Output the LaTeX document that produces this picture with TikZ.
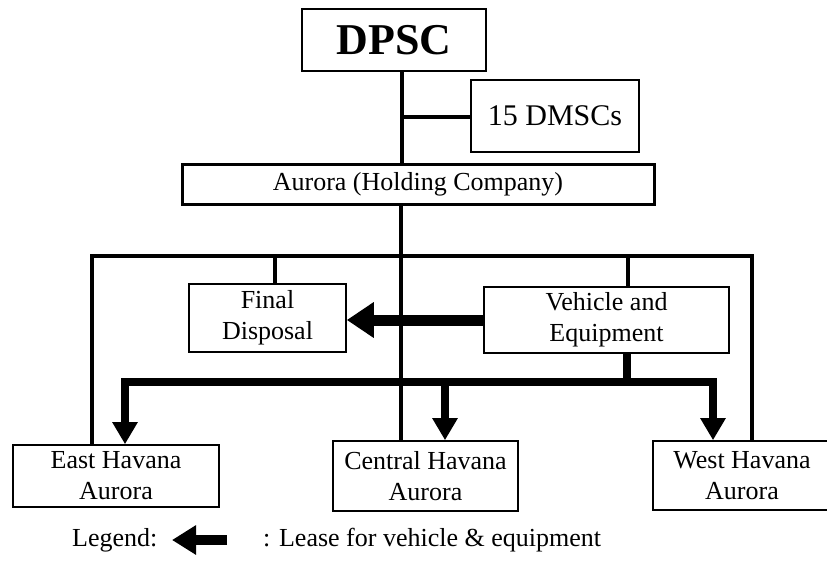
\documentclass[tikz,border=0pt]{standalone}
\usepackage{fontspec}
\setmainfont{Liberation Serif}
\usetikzlibrary{arrows.meta}
\begin{document}
\begin{tikzpicture}[x=1pt,y=-1pt,
  box/.style={draw,line width=1.6pt,inner sep=0pt,align=center,font=\fontsize{26}{31}\selectfont},
  thin/.style={line width=3.2pt},
  bus/.style={line width=8pt},
  downarrow/.style={line width=8pt,-{Triangle[length=22pt,width=24pt]}},
  lease/.style={line width=11pt,-{Triangle[length=27pt,width=34pt]}}]
\useasboundingbox (0,0) rectangle (827,571);
% nodes
\node[box,line width=2pt,minimum width=184pt,minimum height=62pt,font=\fontsize{44}{50}\selectfont\bfseries] (dpsc) at (394,40) {DPSC};
\node[box,minimum width=168pt,minimum height=72pt,font=\fontsize{30}{34}\selectfont] (dmsc) at (555,116) {15 DMSCs};
\node[box,line width=3pt,minimum width=472pt,minimum height=40pt] (aurora) at (418,184) {Aurora (Holding Company)};
\node[box,minimum width=157pt,minimum height=68pt] (final) at (267.5,318) {Final\\Disposal};
\node[box,minimum width=245pt,minimum height=66pt] (veh) at (606.5,320) {Vehicle and\\Equipment};
\node[box,minimum width=206pt,minimum height=62pt] (east) at (116,476) {East Havana\\Aurora};
\node[box,minimum width=185pt,minimum height=70pt] (central) at (425.5,476) {Central Havana\\Aurora};
\node[box,minimum width=178pt,minimum height=69pt] (west) at (742,475.5) {West Havana\\Aurora};
% reference coordinates
\coordinate (vx) at (402,117);
\coordinate (vc) at (401,256);
\coordinate (bl) at (92,256);
\coordinate (br) at (752,256);
\coordinate (fx) at (275,256);
\coordinate (gx) at (628,256);
\coordinate (busl) at (125,382);
\coordinate (busr) at (713,382);
\coordinate (busc) at (445,382);
\coordinate (busv) at (627,382);
% thin connectors
\draw[thin] (dpsc.south -| vx) -- (aurora.north -| vx);
\draw[thin] (vx) -- (dmsc.west |- vx);
\draw[thin] (aurora.south -| vc) -- (central.north -| vc);
\draw[thin,line cap=rect] (bl) -- (br);
\draw[thin] (bl) -- (east.north -| bl);
\draw[thin] (br) -- (west.north -| br);
\draw[thin] (fx) -- (final.north -| fx);
\draw[thin] (gx) -- (veh.north -| gx);
% lease arrow
\draw[lease] (veh.west) -- (veh.west -| final.east);
% bus
\draw[bus] (veh.south -| busv) -- (busv);
\draw[bus,line cap=rect] (busl) -- (busr);
\draw[downarrow] (busl) -- (east.north -| busl);
\draw[downarrow] (busc) -- (central.north -| busc);
\draw[downarrow] (busr) -- (west.north -| busr);
% legend
\node[anchor=west,inner sep=0pt,font=\fontsize{26}{30}\selectfont] (leg) at (72,540) {Legend:};
\coordinate (la) at (227,540);
\coordinate (lb) at (172,540);
\draw[line width=10pt,-{Triangle[length=24pt,width=28pt]}] (la) -- (lb);
\node[anchor=west,inner sep=0pt,font=\fontsize{26}{30}\selectfont] (legt) at (263,540) {: Lease for vehicle \& equipment};
\end{tikzpicture}
\end{document}
